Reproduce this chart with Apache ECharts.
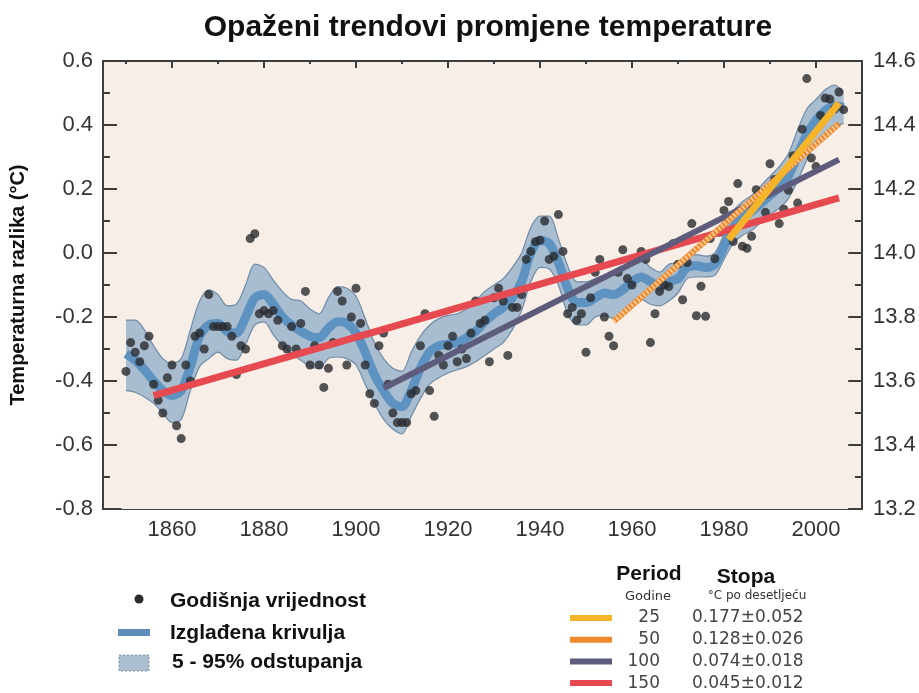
<!DOCTYPE html>
<html>
<head>
<meta charset="utf-8">
<title>Opaženi trendovi promjene temperature</title>
<script src="https://cdn.jsdelivr.net/npm/echarts@6/dist/echarts.min.js"></script>
<style>
  html, body { margin: 0; padding: 0; background: #fff; }
  #chart { width: 919px; height: 693px; }
</style>
</head>
<body>
<div id="chart"></div>
<script>
// godišnje vrijednosti (°C), od 1850. do 2006.
const firstYear = 1850
const annualValues = [
  -0.37, -0.28, -0.31, -0.34, -0.29, -0.26, -0.41, -0.46, -0.50, -0.39,
  -0.35, -0.54, -0.58, -0.35, -0.40, -0.26, -0.25, -0.30, -0.13, -0.23,
  -0.23, -0.23, -0.23, -0.26, -0.38, -0.29, -0.30, 0.045, 0.06, -0.19,
  -0.18, -0.19, -0.18, -0.21, -0.29, -0.30, -0.23, -0.30, -0.22, -0.12,
  -0.35, -0.29, -0.35, -0.42, -0.36, -0.28, -0.12, -0.15, -0.35, -0.20,
  -0.11, -0.22, -0.35, -0.44, -0.47, -0.29, -0.25, -0.41, -0.50, -0.53,
  -0.53, -0.53, -0.44, -0.43, -0.29, -0.19, -0.43, -0.51, -0.32, -0.35,
  -0.29, -0.26, -0.34, -0.30, -0.33, -0.25, -0.15, -0.22, -0.21, -0.34,
  -0.14, -0.11, -0.15, -0.32, -0.17, -0.17, -0.13, -0.02, 0.005, 0.035,
  0.04, 0.10, -0.02, -0.01, 0.12, 0.005, -0.19, -0.17, -0.21, -0.19,
  -0.31, -0.14, -0.06, -0.02, -0.20, -0.26, -0.29, -0.06, 0.01, -0.08,
  -0.10, -0.02, 0.005, -0.02, -0.28, -0.19, -0.12, -0.10, -0.105, 0.03,
  -0.035, -0.146, -0.03, 0.092, -0.196, -0.104, -0.198, 0.045, -0.018, 0.065,
  0.133, 0.161, 0.036, 0.217, 0.021, 0.015, 0.052, 0.198, 0.18, 0.127,
  0.279, 0.23, 0.092, 0.137, 0.196, 0.304, 0.156, 0.387, 0.545, 0.297,
  0.27, 0.43, 0.484, 0.481, 0.45, 0.503, 0.448
]

// izglađena krivulja i raspon 5 - 95%
const smoothYears = [
  1850, 1852, 1854, 1856, 1858, 1860, 1862, 1864, 1866, 1868,
  1870, 1872, 1874, 1876, 1878, 1880, 1882, 1884, 1886, 1888,
  1890, 1892, 1894, 1896, 1898, 1900, 1902, 1904, 1906, 1908,
  1910, 1912, 1914, 1916, 1918, 1920, 1922, 1924, 1926, 1928,
  1930, 1932, 1934, 1936, 1938, 1940, 1942, 1944, 1946, 1948,
  1950, 1952, 1954, 1956, 1958, 1960, 1962, 1964, 1966, 1968,
  1970, 1972, 1974, 1976, 1978, 1980, 1982, 1984, 1986, 1988,
  1990, 1992, 1994, 1996, 1998, 2000, 2002, 2004, 2006
]
const smoothValues = [
  -0.315, -0.335, -0.365, -0.40, -0.43, -0.445, -0.43, -0.355, -0.26, -0.225,
  -0.22, -0.245, -0.25, -0.20, -0.14, -0.13, -0.16, -0.20, -0.225, -0.245,
  -0.26, -0.265, -0.235, -0.215, -0.22, -0.25, -0.31, -0.38, -0.43, -0.47,
  -0.48, -0.43, -0.36, -0.31, -0.29, -0.285, -0.28, -0.265, -0.245, -0.215,
  -0.19, -0.17, -0.14, -0.09, 0.0, 0.04, 0.03, -0.03, -0.11, -0.155,
  -0.155, -0.14, -0.125, -0.13, -0.115, -0.09, -0.075, -0.09, -0.105, -0.09,
  -0.08, -0.045, -0.04, -0.045, -0.035, 0.02, 0.08, 0.11, 0.13, 0.155,
  0.18, 0.205, 0.24, 0.305, 0.37, 0.415, 0.445, 0.46, 0.455
]
const bandLower = [
  -0.43, -0.435, -0.45, -0.47, -0.50, -0.53, -0.52, -0.43, -0.355, -0.33,
  -0.31, -0.33, -0.335, -0.285, -0.225, -0.215, -0.255, -0.29, -0.315, -0.335,
  -0.355, -0.36, -0.33, -0.325, -0.33, -0.35, -0.41, -0.47, -0.52, -0.55,
  -0.565, -0.51, -0.455, -0.41, -0.39, -0.375, -0.365, -0.355, -0.34, -0.32,
  -0.30, -0.28, -0.24, -0.18, -0.09, -0.045, -0.05, -0.10, -0.19, -0.225,
  -0.225, -0.20, -0.195, -0.205, -0.185, -0.165, -0.145, -0.16, -0.165, -0.15,
  -0.125, -0.08, -0.075, -0.075, -0.07, -0.02, 0.03, 0.055, 0.07, 0.095,
  0.12, 0.14, 0.17, 0.225, 0.29, 0.345, 0.375, 0.395, 0.405
]
const bandUpper = [
  -0.21, -0.21, -0.24, -0.29, -0.33, -0.345, -0.33, -0.24, -0.15, -0.115,
  -0.13, -0.165, -0.16, -0.10, -0.035, -0.045, -0.085, -0.12, -0.145, -0.15,
  -0.175, -0.19, -0.14, -0.105, -0.11, -0.135, -0.205, -0.28, -0.33, -0.36,
  -0.37, -0.31, -0.26, -0.225, -0.205, -0.195, -0.19, -0.175, -0.15, -0.12,
  -0.10, -0.08, -0.045, 0.0, 0.08, 0.115, 0.115, 0.045, -0.04, -0.09,
  -0.09, -0.08, -0.07, -0.07, -0.045, -0.035, -0.02, -0.045, -0.06, -0.035,
  -0.03, -0.01, -0.005, -0.01, 0.0, 0.06, 0.13, 0.16, 0.18, 0.21,
  0.24, 0.27, 0.31, 0.385, 0.45, 0.48, 0.51, 0.525, 0.50
]

// linearni trendovi (period u godinama)
const trendPeriods = [25, 50, 100, 150]
const trendStartYear = [1981, 1956, 1906, 1856]
const trendEndYear = [2005, 2005, 2005, 2005]
const trendStartValue = [0.042, -0.214, -0.422, -0.446]
const trendEndValue = [0.469, 0.404, 0.292, 0.172]
const trendRates = ['0.177±0.052', '0.128±0.026', '0.074±0.018', '0.045±0.012']

// oznake osi
const xMajorTicks = [1860, 1880, 1900, 1920, 1940, 1960, 1980, 2000]
const xMinorTicks = [1850, 1870, 1890, 1910, 1930, 1950, 1970, 1990]

const FONT = '"Liberation Sans", Arial, sans-serif'
const axisColor = '#3d3d3d'
const plotBg = '#f6eee7'
const bandEdge = '#6f8ba5'
const trendColors = ['#f5b42a', '#f08a2c', '#5d5c7c', '#e6494f']
const trendWidths = [7, 6, 6, 7]

const years = annualValues.map((v, i) => firstYear + i)
const lowerPts = smoothYears.map((y, i) => [y, bandLower[i]])
const upperPts = smoothYears.map((y, i) => [y, bandUpper[i]])
// the background cover runs one year past both ends so no seam is left
const lastIdx = smoothYears.length - 1
const coverPts = [[smoothYears[0] - 1, bandLower[0]]].concat(lowerPts, [[smoothYears[lastIdx] + 1, bandLower[lastIdx]]])
const gridBox = { left: 103, right: 57, top: 61, bottom: 184 }

function tickAxis(grid, pos, ticks, len, withLine, withLabel) {
  return {
    gridIndex: grid,
    type: 'value',
    position: pos,
    min: 1845,
    max: 2010,
    axisLine: { show: withLine, onZero: false, lineStyle: { color: axisColor, width: 2 } },
    axisTick: { show: true, inside: true, length: len, customValues: ticks, lineStyle: { color: axisColor, width: 2 } },
    axisLabel: {
      show: withLabel, customValues: ticks, margin: 10,
      fontSize: 22, color: '#333', fontFamily: FONT,
      formatter: v => String(v)
    },
    splitLine: { show: false }
  }
}

// trend lines, widest period first so the 25-year one ends on top
const trendSeries = []
for (let i = trendPeriods.length - 1; i >= 0; i--) {
  const pts = [[trendStartYear[i], trendStartValue[i]], [trendEndYear[i], trendEndValue[i]]]
  trendSeries.push({
    name: trendPeriods[i] + '',
    type: 'line',
    data: pts,
    symbol: 'none',
    lineStyle: { color: trendColors[i], width: trendWidths[i], cap: 'butt' },
    z: 10 - i
  })
  if (trendPeriods[i] === 50) {
    // hatching on the 50-year line
    trendSeries.push({
      type: 'line',
      data: pts,
      symbol: 'none',
      lineStyle: { color: '#fcd6ae', width: 5, type: [1.5, 2.5] },
      z: 10 - i
    })
  }
}

const chart = echarts.init(document.getElementById('chart'))

chart.setOption({
  backgroundColor: '#ffffff',
  animation: false,
  grid: [
    Object.assign({ show: true, backgroundColor: plotBg, borderWidth: 0 }, gridBox),
    Object.assign({}, gridBox)
  ],
  xAxis: [
    tickAxis(0, 'bottom', xMajorTicks, 8, true, true),
    tickAxis(0, 'top', xMajorTicks, 7, true, false),
    tickAxis(1, 'bottom', xMinorTicks, 4, false, false),
    tickAxis(1, 'top', xMinorTicks, 3, false, false)
  ],
  yAxis: [
    {
      gridIndex: 0,
      type: 'value',
      position: 'left',
      min: -0.8,
      max: 0.6,
      interval: 0.2,
      name: 'Temperaturna razlika (°C)',
      nameLocation: 'middle',
      nameRotate: 90,
      nameGap: 75,
      nameTextStyle: { fontSize: 20, fontWeight: 'bold', color: '#111', fontFamily: FONT },
      axisLine: { show: true, onZero: false, lineStyle: { color: axisColor, width: 2 } },
      axisTick: { show: true, inside: true, length: 14, lineStyle: { color: axisColor, width: 2 } },
      minorTick: { show: true, splitNumber: 2, length: 7, lineStyle: { color: axisColor, width: 2 } },
      axisLabel: {
        margin: 10, fontSize: 22, color: '#333', fontFamily: FONT,
        formatter: v => v.toFixed(1)
      },
      splitLine: { show: false },
      minorSplitLine: { show: false }
    },
    {
      gridIndex: 0,
      type: 'value',
      position: 'right',
      min: 13.2,
      max: 14.6,
      interval: 0.2,
      axisLine: { show: true, onZero: false, lineStyle: { color: axisColor, width: 2 } },
      axisTick: { show: true, inside: true, length: 14, lineStyle: { color: axisColor, width: 2 } },
      minorTick: { show: true, splitNumber: 2, length: 7, lineStyle: { color: axisColor, width: 2 } },
      axisLabel: {
        margin: 11, fontSize: 22, color: '#333', fontFamily: FONT,
        formatter: v => v.toFixed(1)
      },
      splitLine: { show: false },
      minorSplitLine: { show: false }
    },
    { gridIndex: 1, type: 'value', min: -0.8, max: 0.6, show: false }
  ],
  series: [
    {
      // upper edge of the 5-95% range, filled down to the axis
      name: '5 - 95% odstupanja',
      type: 'line',
      data: upperPts,
      smooth: 0.3,
      symbol: 'none',
      lineStyle: { color: bandEdge, width: 1.2 },
      areaStyle: { color: '#a9bdd0', opacity: 1, origin: 'start' },
      z: 2
    },
    {
      // repaints the plot background below the lower edge
      type: 'line',
      data: coverPts,
      smooth: 0.3,
      symbol: 'none',
      lineStyle: { width: 0, opacity: 0 },
      areaStyle: { color: plotBg, opacity: 1, origin: 'start' },
      z: 3
    },
    {
      name: 'donja granica',
      type: 'line',
      data: lowerPts,
      smooth: 0.3,
      symbol: 'none',
      lineStyle: { color: bandEdge, width: 1.2 },
      z: 3
    },
    {
      name: 'Izglađena krivulja',
      type: 'line',
      data: smoothYears.map((y, i) => [y, smoothValues[i]]),
      smooth: 0.3,
      symbol: 'none',
      lineStyle: { color: '#5d92c1', width: 9 },
      z: 4
    },
    {
      name: 'Godišnja vrijednost',
      type: 'scatter',
      data: years.map((y, i) => [y, annualValues[i]]),
      symbolSize: 9,
      itemStyle: { color: '#2a2a2e' },
      z: 5
    }
  ].concat(trendSeries),
  graphic: [
    {
      type: 'text', x: 488, y: 28,
      style: { text: 'Opaženi trendovi promjene temperature', font: 'bold 30px ' + FONT, fill: '#111', align: 'center', verticalAlign: 'middle' }
    },
    // lijeva legenda
    { type: 'circle', shape: { cx: 139, cy: 599, r: 4.5 }, style: { fill: '#2a2a2e' } },
    { type: 'text', x: 170, y: 601, style: { text: 'Godišnja vrijednost', font: 'bold 21px ' + FONT, fill: '#111', verticalAlign: 'middle' } },
    { type: 'rect', shape: { x: 118, y: 629, width: 32, height: 7 }, style: { fill: '#5d8cb8' } },
    { type: 'text', x: 170, y: 633, style: { text: 'Izglađena krivulja', font: 'bold 21px ' + FONT, fill: '#111', verticalAlign: 'middle' } },
    { type: 'rect', shape: { x: 119, y: 655, width: 30, height: 16 }, style: { fill: '#abbfd1', stroke: '#7c93a8', lineWidth: 1, lineDash: [2, 2] } },
    { type: 'text', x: 172, y: 662, style: { text: '5 - 95% odstupanja', font: 'bold 21px ' + FONT, fill: '#111', verticalAlign: 'middle' } },
    // desna legenda
    { type: 'text', x: 649, y: 574, style: { text: 'Period', font: 'bold 21px ' + FONT, fill: '#111', align: 'center', verticalAlign: 'middle' } },
    { type: 'text', x: 746, y: 577, style: { text: 'Stopa', font: 'bold 21px ' + FONT, fill: '#111', align: 'center', verticalAlign: 'middle' } },
    { type: 'text', x: 648, y: 597, style: { text: 'Godine', font: '13px "DejaVu Sans", sans-serif', fill: '#333', align: 'center', verticalAlign: 'middle' } },
    { type: 'text', x: 757, y: 596, style: { text: '°C po desetljeću', font: '12px "DejaVu Sans", sans-serif', fill: '#333', align: 'center', verticalAlign: 'middle' } }
  ].concat(trendPeriods.flatMap((p, i) => {
    const rowY = 618 + i * 21.7
    return [
      { type: 'line', shape: { x1: 570, y1: rowY, x2: 612, y2: rowY }, style: { stroke: trendColors[i], lineWidth: 6 } },
      { type: 'text', x: 660, y: rowY, style: { text: String(p), font: '17px "DejaVu Sans", sans-serif', fill: '#444', align: 'right', verticalAlign: 'middle' } },
      { type: 'text', x: 692, y: rowY, style: { text: trendRates[i], font: '17px "DejaVu Sans", sans-serif', fill: '#444', verticalAlign: 'middle' } }
    ]
  }))
})
</script>
</body>
</html>
